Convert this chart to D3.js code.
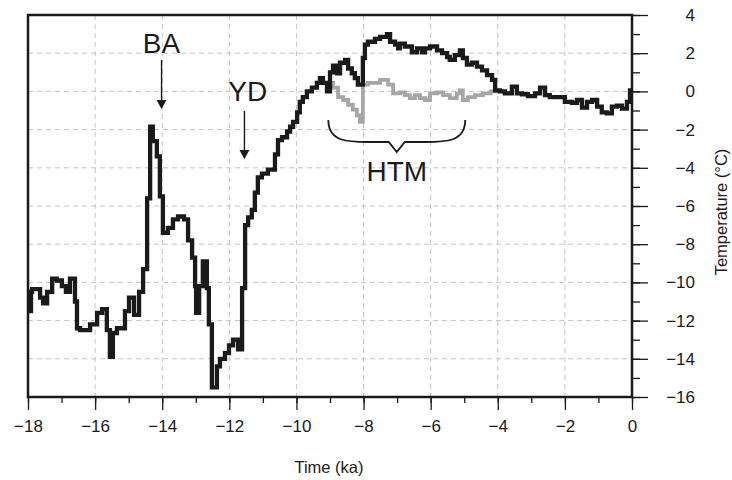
<!DOCTYPE html>
<html>
<head>
<meta charset="utf-8">
<script src="https://cdn.jsdelivr.net/npm/d3@7"></script>
<style>
  html, body { margin: 0; padding: 0; background: #fff; }
  svg { display: block; font-family: "Liberation Sans", Arial, sans-serif; }
</style>
</head>
<body>
<svg id="chart" width="732" height="480"></svg>
<script>
// ---- data ----
const xMajorTicks = [-18, -16, -14, -12, -10, -8, -6, -4, -2, 0];
const xMinorTicks = d3.range(-18, 1, 1);
const yMajorTicks = [4, 2, 0, -2, -4, -6, -8, -10, -12, -14, -16];
const yMinorTicks = d3.range(-16, 5, 1);

// main reconstruction (step series): time (ka) and temperature (°C)
const mainTime = [-18.00, -17.91, -17.88, -17.64, -17.55, -17.43, -17.28, -17.14, -16.99, -16.87,
  -16.75, -16.60, -16.54, -16.45, -16.15, -15.94, -15.79, -15.65, -15.56, -15.47,
  -15.35, -15.11, -14.99, -14.84, -14.69, -14.57, -14.45, -14.36, -14.28, -14.16,
  -14.07, -13.98, -13.83, -13.68, -13.53, -13.35, -13.23, -13.11, -13.02, -12.99,
  -12.90, -12.79, -12.67, -12.61, -12.52, -12.37, -12.28, -12.13, -12.01, -11.89,
  -11.74, -11.62, -11.53, -11.44, -11.33, -11.24, -11.15, -11.03, -10.85, -10.64,
  -10.55, -10.43, -10.28, -10.19, -10.10, -9.98, -9.90, -9.81, -9.69, -9.54,
  -9.39, -9.30, -9.21, -9.09, -9.00, -8.91, -8.79, -8.70, -8.55, -8.46,
  -8.35, -8.26, -8.17, -8.02, -7.96, -7.87, -7.66, -7.51, -7.30, -7.21,
  -7.06, -6.97, -6.92, -6.77, -6.56, -6.41, -6.26, -6.17, -6.02, -5.81,
  -5.66, -5.51, -5.43, -5.28, -5.13, -5.04, -4.92, -4.77, -4.62, -4.47,
  -4.32, -4.17, -4.08, -3.94, -3.79, -3.58, -3.43, -3.28, -3.10, -2.89,
  -2.74, -2.59, -2.45, -2.00, -1.79, -1.64, -1.49, -1.34, -1.19, -1.04,
  -0.90, -0.75, -0.60, -0.45, -0.30, -0.15, -0.06, 0.00];
const mainTemp = [-11.5, -10.5, -10.35, -10.8, -11.1, -10.5, -9.8, -9.9, -10.2, -10.5,
  -9.8, -11.0, -12.4, -12.5, -12.2, -11.6, -11.4, -12.5, -13.9, -12.65,
  -12.4, -11.5, -10.8, -11.7, -10.5, -9.3, -5.6, -1.85, -2.6, -3.4,
  -5.5, -7.4, -7.15, -6.7, -6.55, -6.7, -7.8, -8.7, -10.2, -11.6,
  -10.2, -8.9, -10.3, -12.2, -15.5, -14.4, -14.0, -13.7, -13.3, -13.0,
  -13.5, -10.3, -7.0, -6.6, -6.2, -5.3, -4.5, -4.3, -4.1, -3.3,
  -2.55, -2.4, -2.1, -1.85, -1.6, -1.1, -0.55, -0.3, 0.0, 0.2,
  0.45, 0.7, 0.45, 0.0, 1.0, 1.35, 0.95, 1.5, 1.65, 1.2,
  0.95, 0.7, 0.35, 1.75, 2.45, 2.6, 2.75, 2.85, 3.0, 2.6,
  2.45, 2.25, 2.5, 2.35, 2.05, 2.25, 2.05, 2.25, 2.35, 2.15,
  2.0, 1.8, 1.65, 1.9, 2.15, 1.75, 1.4, 1.5, 1.3, 1.1,
  0.85, 0.6, 0.05, 0.0, -0.1, 0.25, -0.1, -0.15, -0.25, -0.1,
  0.2, -0.2, -0.3, -0.55, -0.6, -0.45, -0.85, -0.55, -0.45, -0.8,
  -1.1, -1.15, -0.8, -0.75, -0.9, -0.55, 0.05, 0.05];

// corrected Holocene Thermal Maximum series (grey)
const greyTime = [-9.00, -8.91, -8.76, -8.61, -8.46, -8.32, -8.20, -8.11, -8.02, -7.87,
  -7.51, -7.27, -7.12, -6.92, -6.77, -6.62, -6.47, -6.32, -6.17, -6.02,
  -5.81, -5.63, -5.43, -5.22, -5.13, -5.04, -4.89, -4.68, -4.44, -4.21, -3.97];
const greyTemp = [0.45, 0.2, -0.3, -0.45, -0.7, -0.95, -1.25, -1.6, 0.35, 0.45,
  0.6, 0.35, -0.1, -0.05, -0.2, -0.35, -0.2, -0.35, -0.45, -0.1,
  -0.05, -0.2, -0.35, -0.1, 0.05, -0.45, -0.3, -0.2, -0.1, 0.0, 0.0];

// annotations
const labelBA = "BA", labelYD = "YD", labelHTM = "HTM";
const xTitle = "Time (ka)", yTitle = "Temperature (°C)";

// ---- drawing ----
const svg = d3.select("#chart");
const x = d3.scaleLinear().domain([-18, 0]).range([28, 632]);
const y = d3.scaleLinear().domain([-16, 4]).range([397, 15]);
const fmt = d => d3.format("d")(d);
const ink = "#1a1a1a";

// grid
const grid = svg.append("g").attr("stroke", "#c4c4c4").attr("stroke-width", 1).attr("stroke-dasharray", "5,4");
grid.selectAll("line.v").data(xMajorTicks.filter(d => d > -18 && d < 0)).join("line")
  .attr("x1", d => x(d)).attr("x2", d => x(d)).attr("y1", y(4)).attr("y2", y(-16));
grid.selectAll("line.h").data(yMajorTicks.filter(d => d > -16 && d < 4)).join("line")
  .attr("x1", x(-18)).attr("x2", x(0)).attr("y1", d => y(d)).attr("y2", d => y(d));

// series
const mainData = mainTime.map((t, i) => [t, mainTemp[i]]);
const greyData = greyTime.map((t, i) => [t, greyTemp[i]]);
const line = d3.line().x(d => x(d[0])).y(d => y(d[1])).curve(d3.curveStepAfter);

svg.append("path").datum(greyData).attr("d", line)
  .attr("fill", "none").attr("stroke", "#a6a6a6").attr("stroke-width", 3.8).attr("stroke-linejoin", "miter");
svg.append("path").datum(mainData).attr("d", line)
  .attr("fill", "none").attr("stroke", ink).attr("stroke-width", 4.3).attr("stroke-linejoin", "miter");

// frame
svg.append("rect").attr("x", x(-18)).attr("y", y(4)).attr("width", x(0) - x(-18)).attr("height", y(-16) - y(4))
  .attr("fill", "none").attr("stroke", ink).attr("stroke-width", 2.5);

// bottom axis
const xAxisMaj = d3.axisBottom(x).tickValues(xMajorTicks).tickSize(13).tickPadding(10).tickFormat(fmt);
const xAxisMin = d3.axisBottom(x).tickValues(xMinorTicks).tickSize(6).tickFormat("");
const gxMin = svg.append("g").attr("transform", `translate(0,${y(-16)})`).call(xAxisMin);
const gx = svg.append("g").attr("transform", `translate(0,${y(-16)})`).call(xAxisMaj);
[gx, gxMin].forEach(g => { g.select(".domain").remove(); g.selectAll("line").attr("stroke", ink).attr("stroke-width", 1.3); });
gx.selectAll("text").attr("font-size", 17).attr("fill", ink).attr("font-family", "Liberation Sans, Arial, sans-serif");

// right axis
const yAxisMaj = d3.axisRight(y).tickValues(yMajorTicks).tickSize(16).tickPadding(47).tickFormat(fmt);
const yAxisMin = d3.axisRight(y).tickValues(yMinorTicks).tickSize(8).tickFormat("");
const gyMin = svg.append("g").attr("transform", `translate(${x(0)},0)`).call(yAxisMin);
const gy = svg.append("g").attr("transform", `translate(${x(0)},0)`).call(yAxisMaj);
[gy, gyMin].forEach(g => { g.select(".domain").remove(); g.selectAll("line").attr("stroke", ink).attr("stroke-width", 1.3); });
gy.selectAll("text").attr("font-size", 17).attr("fill", ink).attr("text-anchor", "end")
  .attr("font-family", "Liberation Sans, Arial, sans-serif");

// axis titles
svg.append("text").attr("x", 329).attr("y", 473).attr("text-anchor", "middle")
  .attr("font-size", 16.5).attr("fill", ink).text(xTitle);
svg.append("text").attr("transform", "translate(727,212) rotate(-90)").attr("text-anchor", "middle")
  .attr("font-size", 16.5).attr("fill", ink).text(yTitle);

// annotations
function arrow(xv, y0, y1) {
  const px = x(xv);
  svg.append("line").attr("x1", px).attr("x2", px).attr("y1", y0).attr("y2", y1 - 8)
    .attr("stroke", ink).attr("stroke-width", 1.4);
  svg.append("path").attr("d", `M${px - 5},${y1 - 9} L${px + 5},${y1 - 9} L${px},${y1} Z`).attr("fill", ink);
}
svg.append("text").attr("x", x(-14.02)).attr("y", 53).attr("text-anchor", "middle")
  .attr("font-size", 28).attr("fill", ink).text(labelBA);
arrow(-14.02, 60, 109);
svg.append("text").attr("x", x(-11.45)).attr("y", 101).attr("text-anchor", "middle")
  .attr("font-size", 28).attr("fill", ink).text(labelYD);
arrow(-11.55, 111, 159);

// HTM brace
const bL = x(-9.05), bR = x(-4.97), bM = (bL + bR) / 2, bTop = 120, bMid = 142, bTip = 152;
svg.append("path")
  .attr("d", `M${bL},${bTop} C${bL},${bMid} ${bL + 20},${bMid} ${bL + 40},${bMid} L${bM - 8},${bMid} L${bM},${bTip} L${bM + 8},${bMid} L${bR - 40},${bMid} C${bR - 20},${bMid} ${bR},${bMid} ${bR},${bTop}`)
  .attr("fill", "none").attr("stroke", ink).attr("stroke-width", 1.8);
svg.append("text").attr("x", bM).attr("y", 181).attr("text-anchor", "middle")
  .attr("font-size", 28).attr("fill", ink).text(labelHTM);
</script>
</body>
</html>
